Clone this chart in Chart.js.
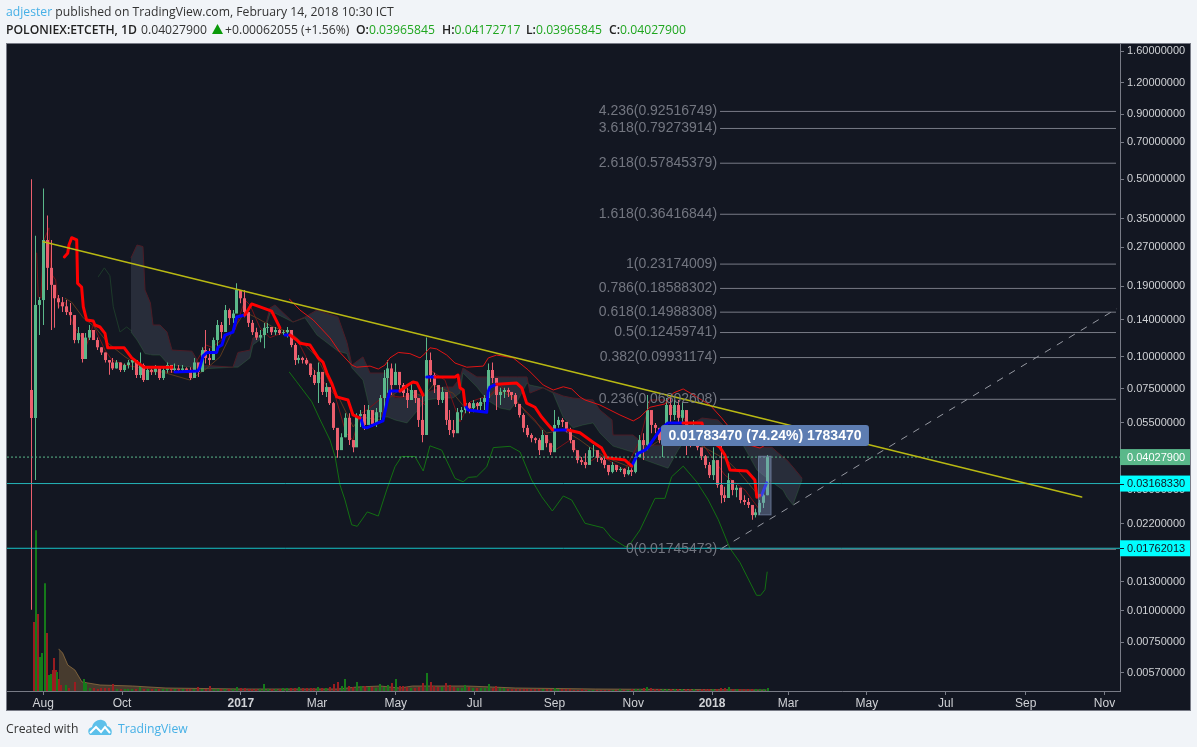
<!DOCTYPE html>
<html><head><meta charset="utf-8">
<script src="https://cdn.jsdelivr.net/npm/chart.js@4"></script>
<style>
html,body{margin:0;padding:0;background:#f1f4f8;width:1197px;height:747px;overflow:hidden}
canvas{position:absolute;left:0;top:0;display:block}
.t{position:absolute;white-space:nowrap;font:12.2px "Open Sans",sans-serif;color:#333;line-height:18px}
.g{color:#1fa61f}.b{font-weight:600;color:#222}.l{color:#46b0e6}
</style></head><body>
<canvas id="c" width="1197" height="747" style="width:1197px;height:747px"></canvas>
<div class="t" style="left:6px;top:3px"><span class="l">adjester</span> published on TradingView.com, February 14, 2018 10:30 ICT</div>
<div class="t" style="left:6px;top:21px"><span class="b">POLONIEX:ETCETH, 1D</span></div>
<div class="t" style="left:141px;top:21px">0.04027900</div>
<svg style="position:absolute;left:212px;top:24px" width="11" height="11"><path d="M5.5 0L11 10H0Z" fill="#0a9a0a"/></svg>
<div class="t" style="left:225px;top:21px">+0.00062055 (+1.56%)</div>
<div class="t" style="left:356px;top:21px"><span class="b">O:</span><span class="g">0.03965845</span></div>
<div class="t" style="left:442px;top:21px"><span class="b">H:</span><span class="g">0.04172717</span></div>
<div class="t" style="left:526px;top:21px"><span class="b">L:</span><span class="g">0.03965845</span></div>
<div class="t" style="left:609px;top:21px"><span class="b">C:</span><span class="g">0.04027900</span></div>
<div class="t" style="left:6px;top:720px">Created with</div>
<svg style="position:absolute;left:88px;top:719px" width="24" height="17" viewBox="0 0 24 17"><path d="M2 16C-1 13 0 9 4 8 5 3 10 0 14 1c4 1 5 4 5 6 4 1 6 5 4 9Z" fill="#5cc0ea"/><path d="M2 14l6-6 5 5 4-5 5 6" fill="none" stroke="#fff" stroke-width="2"/></svg>
<div class="t l" style="left:118px;top:720px">TradingView</div>
<script>
// x values are days counted from 1 Aug 2016
const xTickDays=[0,61,153,212,273,334,396,457,518,577,638,699,761,822];
const xTickLabels=['Aug','Oct','2017','Mar','May','Jul','Sep','Nov','2018','Mar','May','Jul','Sep','Nov'];
const boldTicks=['2017','2018'];
const priceTicks=[1.6,1.2,0.9,0.7,0.5,0.35,0.27,0.19,0.14,0.1,0.075,0.055,0.04,0.03,0.022,0.013,0.01,0.0075,0.0057];

const firstCandleDay=-9, candleStep=3, firstOpen=0.0740;
const highs=[.50,.30,.172,.46,.36,.2884,.1832,.175,.172,.1673,.163,.143,.131,.124,.124,.1334,.1275,.119,.109,.104,.0971,.099,.0971,.095,.094,.0971,.099,.095,.104,.094,.091,.090,.0928,.0887,.091,.095,.091,.094,.0928,.0928,.091,.091,.099,
.091,.109,.1275,.108,.119,.1396,.137,.160,.155,.1528,.195,.1832,.1832,.148,.1396,.130,.1275,.136,.136,.131,.131,.130,.1275,.131,.1275,.113,.1016,.100,.099,.094,.0887,.095,.0774,.0788,.0727,.0664,.0515,.0500,.0600,.0600,.0470,.0600,.0617,.0646,
.0646,.0605,.0628,.0707,.0887,.0971,.094,.094,.0848,.0788,.0755,.080,.074,.0628,.072,.119,.104,.0865,.0774,.076,.0688,.0617,.0564,.0628,.0635,.0676,.0664,.0676,.0664,.0688,.0707,.094,.095,.081,
.0755,.0755,.0755,.0727,.072,.0635,.0600,.0539,.050,.0482,.0478,.0515,.0482,.0449,.0617,.0581,.0574,.0539,.0525,.047,.0421,.0403,.0417,.044,.0449,.0421,.0403,.040,.0375,.0385,.0375,.0368,.0364,.0368,.0364,.0417,.0492,.050,.0707,
.0581,.0549,.0515,.05,.0688,.0688,.0676,.0676,.0657,.0515,.053,.0564,.0482,.0437,.041,.0385,.044,.0358,.0449,.0308,.0348,.0318,.0313,.0305,.0285,.0278,.0254,.0252,.0273,.0294,.041];
const lows=[.0101,.0327,.1218,.1334,.1832,.1275,.13,.155,.150,.146,.1334,.113,.113,.095,.109,.1164,.1164,.1063,.1016,.095,.085,.0887,.090,.0872,.0872,.090,.0887,.0825,.0825,.0795,.0848,.0848,.0848,.081,.081,.0865,.0865,.0865,.0872,.0865,.0872,.081,.0865,
.0833,.0887,.094,.0928,.103,.1063,.118,.1275,.1334,.136,.1528,.1625,.143,.131,.1218,.1164,.114,.108,.124,.1218,.1218,.1218,.1218,.119,.109,.0928,.094,.094,.0928,.0833,.0774,.0657,.0707,.0695,.0646,.0515,.0400,.0440,.0482,.0449,.0421,.0525,.0529,.0515,
.0554,.0529,.0529,.0564,.0617,.0722,.0707,.0774,.0727,.0695,.0628,.0676,.0657,.0529,.0461,.0617,.0795,.072,.0646,.0657,.0539,.0492,.0482,.0549,.0564,.0600,.0600,.0605,.0617,.0617,.0617,.0676,.0788,.0617,
.0646,.0688,.0695,.0676,.0635,.0577,.0505,.0482,.0461,.0457,.041,.044,.044,.041,.0429,.0525,.0529,.0505,.0457,.0421,.0381,.0375,.0364,.040,.0403,.0385,.0381,.0364,.0342,.0348,.0352,.0352,.0336,.0342,.0339,.0348,.041,.0392,.0429,
.050,.050,.0457,.0403,.0549,.0549,.0564,.0549,.0549,.041,.044,.047,.0429,.0392,.0364,.0333,.0327,.0305,.0265,.0268,.0278,.0285,.028,.0265,.0261,.0254,.0228,.0233,.0238,.0254,.0285];
const closes=[.0574,.16,.1673,.2884,.224,.192,.170,.164,.158,.150,.146,.1164,.124,.098,.119,.1275,.1164,.109,.104,.0971,.095,.090,.095,.0887,.0928,.095,.0971,.0848,.0928,.081,.0887,.0872,.090,.0825,.0887,.0928,.0887,.090,.0887,.090,.0887,.0825,.095,
.0872,.1063,.099,.0971,.1164,.1334,.1252,.1528,.142,.148,.1832,.170,.150,.136,.125,.119,.1218,.130,.131,.125,.1275,.124,.125,.1275,.1113,.0971,.099,.0971,.094,.0848,.0788,.0872,.0727,.076,.0657,.0525,.0429,.0482,.0575,.0470,.0440,.0585,.0595,.0539,
.0617,.0544,.0605,.0688,.0825,.090,.0774,.0872,.0774,.072,.0676,.074,.0688,.0564,.0492,.0971,.0848,.0774,.0676,.0727,.0564,.0515,.050,.0605,.0617,.0657,.0628,.0657,.0640,.0664,.0688,.0887,.0825,.0707,
.0727,.074,.0727,.0707,.0652,.059,.0525,.0492,.0478,.047,.0429,.0492,.0457,.0421,.0539,.0564,.0554,.0515,.047,.0429,.0392,.0385,.0375,.0429,.0429,.040,.0392,.0375,.0352,.0375,.0358,.0362,.0345,.0358,.0352,.0403,.047,.0449,.0617,
.0539,.0525,.047,.0482,.0646,.059,.0646,.0575,.0617,.0492,.047,.0525,.044,.0406,.0375,.0342,.0392,.0313,.0285,.0278,.0327,.0299,.0305,.0273,.0268,.0261,.0238,.0244,.0266,.0285,.04028];

const earlyVolumeDays=[-7.2,-5.7,-4.1,-2.9,-1,1.3,2.9,4.4,6,7.5,8.3,9.8,10.6,11.8,13.7,17.6,20,24.5,31.5];
const earlyVolumes=[69,161,77,34,38,108,58,16,17,21,33,21,19,12,6,6,3,9,12];
const earlyVolumeUp=[0,1,0,1,1,1,0,1,1,0,0,0,1,0,0,1,0,0,1];
const tailVolumeFirstCandle=14;
const tailVolumes=[8,3,3,2,3,3,3,7,2,2,2,2,2,2,4,2,2,2,2,2,2,2,2,2,2,2,2,2,2,4,2,2,5,2,2,2,2,2,2,4,3,3,2,2,2,2,7,2,2,2,2,3,3,3,3,4,3,3,3,3,4,3,3,4,7,9,5,12,5,4,9,5,5,4,4,3,7,4,6,8,12,5,5,4,3,3,4,8,18,9,5,4,4,8,6,4,3,3,6,4,3,3,3,3,7,3,5,3,3,2,2,2,2,2,2,2,2,2,2,2,2,3,2,2,2,2,1,1,2,1,1,1,1,1,1,1,1,1,2,1,1,2,2,2,3,4,3,2,2,2,2,2,2,2,2,2,2,2,1,2,2,2,2,2,3,3,4,2,2,2,2,2,2,2,2,2,3];
const volumeMaDays=[12,15,19,24.5,30,44,69,95,154,228,243,261,276,286,304,328,348,366,428,560];
const volumeMa=[42,38,26,21,9,6,5,3,2,2,4,5,3,5,5,5,4,3,2,1];

const redDays=[16.3,18.9,19.9,22,25.9,26.6,29.7,31,33.6,38.7,40,43.9,47.8,49.9,62.7,68.5,73.6,78,99.7,null,156.2,161.4,167.9,176.9,179.5,183.3,null,191,196.3,198.8,206.6,213,216.6,219.6,223.4,227.3,236,239.9,245.3,null,276.3,282.5,286.4,289.5,294.1,null,303.4,318.9,321.2,322.8,325.3,326.7,null,351.2,366.7,370.6,374.4,380.9,386,391.2,394.6,null,406.4,415.7,425.8,432.5,436.6,450.6,455.8,null,495.5,510.2,512.5,524.1,528,531.9,545,551.2,552.7,555];
const redPrices=[.2473,.2555,.2755,.2943,.2884,.1945,.1882,.1573,.1396,.1383,.1334,.1310,.1237,.1085,.1085,.0990,.0945,.0910,.0910,null,.1461,.1615,.1573,.1514,.1423,.1300,null,.1218,.1164,.1130,.1113,.0990,.0953,.0865,.0788,.0695,.0676,.0590,.0574,null,.0733,.0774,.0796,.0788,.0707,null,.0833,.0833,.0848,.0755,.0740,.0646,null,.0780,.0788,.0755,.0657,.0633,.0579,.0539,.0515,null,.0515,.0502,.0461,.0437,.0400,.0392,.0371,null,.0549,.0549,.0486,.0440,.0410,.0358,.0355,.0327,.0280,.0285];
const blueDays=[102,119.8,121.3,123.7,126.6,134.3,135.3,138.4,140.7,146.9,149.8,156.2,null,187.2,191,null,245.9,247.9,250.5,259.3,263.1,267,268.5,276.3,null,297,303.4,null,326.7,329,343.5,344.5,346,351.2,null,394.6,406.4,null,455.8,460.7,466.1,468.4,477.7,483.9,495.5,null,556.4,560.3];
const bluePrices=[.0872,.088,.0910,.1006,.1040,.1040,.109,.1113,.1218,.125,.1434,.1461,null,.1218,.1218,null,.0574,.0529,.0525,.0549,.0559,.0688,.0733,.0733,null,.0833,.0833,null,.0646,.0617,.0605,.0727,.076,.0780,null,.0515,.0515,null,.0371,.0417,.0429,.0440,.0515,.0549,.0549,null,.0285,.0319];

const upperDays=[190.6,198.8,209.1,222.1,229.8,238.9,242.8,253.1,259.5,264.7,268.5,275,284,291.8,295.6,299.5,304.7,312.5,318.9,328,340.8,344.7,351.2,364,375.7,387.3,395,402.8,409.3,415.7,419.6,431.2,446.7,457,462.2,470,481.5,488,495.7,506.1,516.4,525.5,534.3,547.4,555.1,560.3];
const upperPrices=[.1689,.1528,.1396,.1187,.1040,.0928,.0910,.0919,.0895,.0928,.0990,.1040,.1029,.0990,.1029,.1085,.1074,.1016,.0945,.0910,.0919,.0990,.1016,.0990,.0887,.0774,.0740,.0762,.0747,.0695,.0676,.0646,.0590,.0559,.0579,.0633,.0652,.0720,.0747,.0695,.0646,.0574,.0505,.0449,.0437,.0452];
const lowerDays=[190.6,196.3,208,214.5,222.1,226,229.8,233.7,238.9,243.2,251,259.5,266,272.4,277.6,287.9,294.3,299.5,308.6,318.9,325.3,329.2,335.7,343.5,348.6,361.5,369.3,378.3,386.1,394.3,402.8,409.3,419.6,433.8,440.3,450.6,453.2,462.2,473.8,481.5,486.7,495.7,506.1,515.1,522.9,531.9,539.6,552.5,555.6,559,560.7];
const lowerPrices=[.0870,.0797,.0665,.0564,.0470,.0405,.0313,.0273,.0218,.0215,.0245,.0236,.0299,.0369,.0405,.0405,.0355,.0446,.0429,.0332,.0322,.0335,.0337,.0369,.0439,.0444,.0422,.0327,.0281,.0247,.0283,.0273,.0221,.0212,.0193,.0179,.0179,.0208,.0277,.0277,.0337,.0371,.0322,.0273,.0228,.0176,.0155,.0115,.0115,.0121,.0142];
const avgDays=[16.8,22,31,40,50.3,63.3,76.2,94.3,113.6,126.6,136.9,146.9,156.2,165.3,177.9,191,201.2,211.8,222.1,229.8,240.1,245.3,260.8,266,278.6,294.4,301.9,317.3,328,340.8,351.2,364.1,374.4,389.9,402.8,415.7,423.4,436.4,454.5,462.2,477.7,487.8,506.1,529.4,539.7,555.1];
const avgPrices=[.170,.164,.1423,.131,.113,.100,.091,.0865,.081,.090,.100,.1275,.150,.1423,.131,.125,.113,.100,.0788,.0676,.0529,.058,.0564,.0676,.076,.0695,.0774,.072,.0617,.0657,.074,.0695,.0600,.0501,.0515,.047,.044,.040,.0368,.0417,.047,.047,.0457,.0392,.0348,.028];
const fastDays=[-5.1,-3.9,-1.8,0,4.4,6,9.6,11.6,16.8,23.2,33.6,38.7,47.8,53.2,63.3,75.7,82.7,94.3,113.6,126,130.7,148.5,156.2,160.1,167.9,175.6,191,198.8,206.6,215.9,225.9,234.5,239.9,245.3,250.7,264.7,276.3,288,295.6,299.5,311.1,322.8,330.5,346,353.8,369.3,380.9,396.4,408,419.6,431.2,450.6,462.2,470,481.5,497,508.6,528,543.5,555.1];
const fastPrices=[.2565,.1720,.1705,.2830,.3220,.2135,.2006,.1573,.1640,.1334,.1113,.1334,.1063,.0971,.0928,.0903,.0872,.0872,.0865,.1113,.1090,.1275,.1673,.1600,.1300,.1190,.1275,.1113,.0928,.0810,.0707,.0501,.0470,.0595,.0617,.0707,.0695,.0707,.0646,.0887,.0810,.0554,.0664,.0707,.0774,.0646,.0564,.0429,.0470,.0375,.0410,.0358,.0470,.0676,.0676,.0564,.0470,.0342,.0299,.0249];
const earlySpanDays=[42.6,47.3,51.6,54.2,59.4,64.6,68.5];
const earlySpanPrices=[.2065,.2240,.2085,.1573,.1252,.1310,.1263];

const cloudDays=[67.9,72.6,77.2,78.8,83,85,90.4,95.8,99.7,115.2,121.4,146.9,150.8,160.1,162.4,170.2,175.6,179.5,193.4,202.7,212,228.3,235.2,239.1,247.6,253.1,258.5,267,272.4,281.7,290.2,295.6,309.6,317.3,322.8,325.1,335.9,343.7,353.8,361.5,367.7,374.7,377,387.1,394.8,402.6,410.3,418,425.8,431.2,440.5,441.3,456.8,466.1,483.9,491.7,501,510.2,522.6,528,542,552.8,564.4,572.9,576,580.7,587.7];
const cloudTop=[.2450,.2755,.2716,.1832,.1628,.1334,.1334,.1252,.1063,.1052,.0928,.0910,.1040,.1063,.1187,.1218,.1557,.1600,.1370,.1434,.1528,.1434,.1140,.0928,.0999,.0863,.0863,.0863,.0688,.0695,.0707,.0720,.0760,.0760,.0825,.0903,.0833,.0833,.0833,.0833,.0833,.0833,.0720,.0755,.0727,.0701,.0688,.0682,.0676,.0617,.0564,.0492,.0492,.0449,.0449,.0470,.0539,.0574,.0564,.0529,.0449,.0440,.0440,.0403,.0392,.0368,.0333];
const cloudBottom=[.1252,.1164,.1063,.1029,.1020,.1016,.1016,.0945,.0928,.0910,.0895,.0910,.0910,.0990,.1113,.1190,.1485,.1485,.1370,.1423,.1218,.1052,.1029,.0903,.0810,.0617,.0579,.0579,.0564,.0549,.0617,.0676,.0688,.0688,.0720,.0863,.0760,.0676,.0628,.0617,.0676,.0788,.0774,.0755,.0720,.0579,.0525,.0539,.0549,.0501,.0449,.0445,.0421,.0392,.0364,.0429,.0505,.0525,.0515,.0515,.0449,.0358,.0321,.0299,.0280,.0261,.0327];

const fibRatios=['4.236','3.618','2.618','1.618','1','0.786','0.618','0.5','0.382','0.236','0'];
const fibPrices=[0.92516749,0.79273914,0.57845379,0.36416844,0.23174009,0.18588302,0.14988308,0.12459741,0.09931174,0.06802608,0.01745473];
const fibStartDay=524.2, fibEndDay=830.9;
const yellowDays=[0,804.3], yellowPrices=[.2838,.02805];
const dashDays=[525.5,831.7], dashPrices=[.0176,.1549];
const lastPrice=0.040279, level1=0.0316833, level2=0.01762013;
const axisStartDay=-28.1, axisEndDay=834;
const yMin=.00483, yMax=1.705;
const measureDays=[554,563.7], measurePrices=[.02385,.04058];
const measureLabel='0.01783470 (74.24%) 1783470', measureLabelDay=559, measureLabelPrice=.04900;

const FONT='"Liberation Sans",Arial,sans-serif';
Chart.defaults.font.family=FONT;
const UP='#5ab88a',DOWN='#ec5f6e',VUP='#157a1a',VDOWN='#9a1c20';
const candleDays=closes.map((_,i)=>firstCandleDay+i*candleStep);
const opens=closes.map((_,i)=>i?closes[i-1]:firstOpen);
const isUp=closes.map((c,i)=>c>=opens[i]);
const xy=(d,p)=>d.map((x,i)=>({x,y:p[i]}));
const line=(d,p,color,width,order,extra)=>Object.assign({type:'line',data:xy(d,p),borderColor:color,borderWidth:width,pointRadius:0,tension:0,fill:false,order,yAxisID:'y',borderJoinStyle:'round',borderCapStyle:'round'},extra||{});
const bar=(data,colors,width,order,axis)=>({type:'bar',data,backgroundColor:colors,barThickness:width,grouped:false,order,yAxisID:axis,inflateAmount:0,borderWidth:0});

const tailData=tailVolumes.map((v,i)=>({x:candleDays[i+tailVolumeFirstCandle],y:v}));
const tailColors=tailVolumes.map((_,i)=>isUp[i+tailVolumeFirstCandle]?VUP:VDOWN);

const datasets=[
 line(cloudDays,cloudTop,'#4c1c26',1,30,{fill:'+1',backgroundColor:'rgba(88,92,108,.32)'}),
 line(cloudDays,cloudBottom,'#1d3a2a',1,30),
 line(earlySpanDays,earlySpanPrices,'#1d3a2a',1,30),
 line(volumeMaDays,volumeMa,'rgba(150,115,65,.75)',1,24,{yAxisID:'v',fill:'origin',backgroundColor:'rgba(150,115,65,.4)'}),
 bar(xy(earlyVolumeDays,earlyVolumes),earlyVolumeUp.map(u=>u?VUP:VDOWN),2,22,'v'),
 bar(tailData,tailColors,2,22,'v'),
 line(fastDays,fastPrices,'#7a1218',1,21),
 line(avgDays,avgPrices,'#5c3a1e',1,20),
 bar(candleDays.map((x,i)=>({x,y:[lows[i],highs[i]]})),isUp.map(u=>u?UP:DOWN),1,18,'y'),
 bar(candleDays.map((x,i)=>({x,y:[opens[i],closes[i]]})),isUp.map(u=>u?UP:DOWN),3,17,'y'),
 line(lowerDays,lowerPrices,'#127012',1,15),
 line(upperDays,upperPrices,'#e01414',1,15),
 line(redDays,redPrices,'#ff0000',3,14),
 line(blueDays,bluePrices,'#0000ff',3,14),
 line([axisStartDay,axisEndDay],[lastPrice,lastPrice],'#5ab88a',1,12,{borderDash:[2,2],borderCapStyle:'butt'}),
 line([axisStartDay,axisEndDay],[level1,level1],'#25b4b8',1,12,{borderCapStyle:'butt'}),
 line([axisStartDay,axisEndDay],[level2,level2],'#15c4c8',1,12,{borderCapStyle:'butt'}),
 line(yellowDays,yellowPrices,'#b9b913',1.5,10),
 line(dashDays,dashPrices,'#9598a1',1,10,{borderDash:[7,7],borderCapStyle:'butt'}),
];
fibPrices.forEach(p=>datasets.push(line([fibStartDay,fibEndDay],[p,p],'#787b86',1,11,{borderCapStyle:'butt'})));

const frame={id:'frame',
 beforeDraw(ch){const c=ch.ctx;c.save();c.fillStyle='#131722';c.fillRect(6,43,1184,667);
  c.strokeStyle='#787b86';c.lineWidth=1;c.strokeRect(6.5,43.5,1184,667);c.restore();},
 beforeDatasetsDraw(ch){
  // snap bars to whole device pixels so thin wicks stay crisp
  ch.getSortedVisibleDatasetMetas().forEach(m=>{ if(m.type!=='bar')return;
   m.data.forEach(el=>{const odd=Math.round(el.width)%2===1; el.x=odd?Math.floor(el.x)+.5:Math.round(el.x);});});
 },
 afterDatasetsDraw(ch){
  const c=ch.ctx,X=ch.scales.x,Y=ch.scales.y;
  c.save();
  const x0=X.getPixelForValue(measureDays[0]),x1=X.getPixelForValue(measureDays[1]);
  const y0=Y.getPixelForValue(measurePrices[1]),y1=Y.getPixelForValue(measurePrices[0]);
  c.fillStyle='rgba(130,150,190,.42)';c.fillRect(x0,y0,x1-x0,y1-y0);
  c.strokeStyle='rgba(120,135,170,.7)';c.strokeRect(x0,y0,x1-x0,y1-y0);
  c.font='14px '+FONT;c.fillStyle='rgba(120,123,134,.95)';c.textAlign='right';c.textBaseline='middle';
  const lx=X.getPixelForValue(fibStartDay)-3;
  fibRatios.forEach((r,i)=>c.fillText(r+'('+fibPrices[i].toFixed(8)+')',lx,Y.getPixelForValue(fibPrices[i])));
  const cx=X.getPixelForValue(measureLabelDay),cy=Y.getPixelForValue(measureLabelPrice);
  c.fillStyle='#5d7db2';c.beginPath();c.roundRect(cx-104,cy-10.5,208,21,3);c.fill();
  c.font='bold 14px '+FONT;c.fillStyle='#fff';c.textAlign='center';c.fillText(measureLabel,cx,cy+.5);
  c.restore();
 },
 afterDraw(ch){
  const c=ch.ctx,Y=ch.scales.y,a=ch.chartArea;
  c.save();c.font='11px '+FONT;c.textBaseline='middle';c.textAlign='left';
  [[lastPrice,'#5ab88a','#fff'],[level1,'#00ffff','#131722'],[level2,'#00ffff','#131722']].forEach(([v,bg,fg])=>{
   const y=Y.getPixelForValue(v);
   c.fillStyle=bg;c.fillRect(a.right,y-8,70,16);
   c.fillStyle=fg;c.fillText(v.toFixed(8),a.right+7,y+.5);
   if(bg==='#00ffff'){c.fillStyle='#131722';c.fillRect(a.right,Math.round(y),4,1);}
  });
  c.restore();
 }};

new Chart(document.getElementById('c'),{
 data:{datasets},
 plugins:[frame],
 options:{
  responsive:false,animation:false,devicePixelRatio:1,events:[],
  layout:{padding:{left:7,top:44,right:7,bottom:37}},
  plugins:{legend:{display:false},tooltip:{enabled:false},title:{display:false}},
  scales:{
   x:{type:'linear',offset:false,min:axisStartDay,max:axisEndDay,
    afterBuildTicks(s){s.ticks=xTickDays.map(value=>({value}));},
    afterFit(s){s.height=19;},
    grid:{drawOnChartArea:false,offset:false,color:'#787b86',tickLength:4,drawTicks:true},
    border:{color:'#787b86',width:1},
    ticks:{autoSkip:false,maxRotation:0,padding:1,color:'#d0d2d6',
     font:ctx=>({size:12,family:FONT,weight:ctx.tick&&boldTicks.includes(xTickLabels[xTickDays.indexOf(ctx.tick.value)])?'bold':'normal'}),
     callback:v=>xTickLabels[xTickDays.indexOf(v)]}},
   y:{type:'logarithmic',position:'right',min:yMin,max:yMax,
    afterBuildTicks(s){s.ticks=priceTicks.map(value=>({value}));},
    afterFit(s){s.width=70;},
    grid:{drawOnChartArea:false,color:'#787b86',tickLength:4},
    border:{color:'#787b86',width:1},
    ticks:{autoSkip:false,padding:3,color:'#d0d2d6',font:{size:11,family:FONT},callback:v=>Number(v).toFixed(8)}},
   v:{type:'linear',display:false,min:0,max:648}
  }
 }
});
</script>
</body></html>
